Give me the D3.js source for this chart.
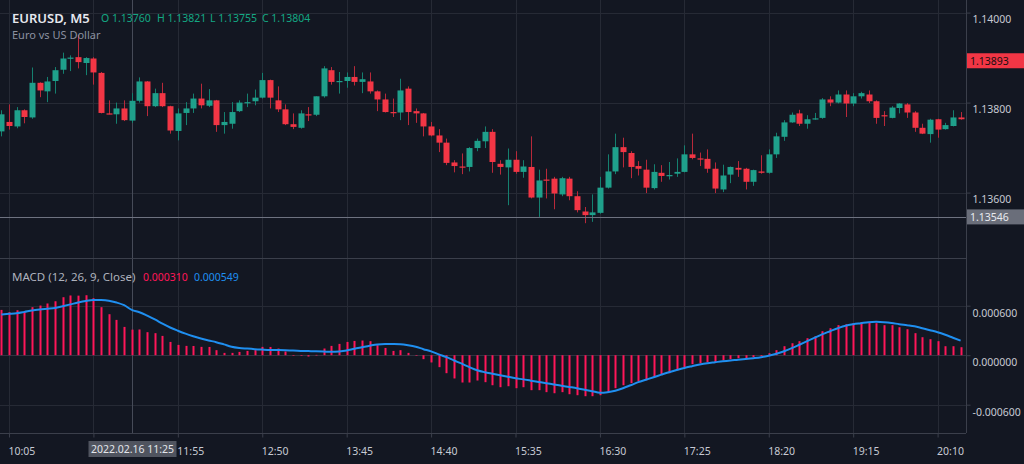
<!DOCTYPE html>
<html><head><meta charset="utf-8">
<script src="https://cdn.jsdelivr.net/npm/d3@7/dist/d3.min.js"></script>
<style>
html,body{margin:0;padding:0;background:#131722;overflow:hidden;}
svg{display:block;}
text{font-family:"Noto Sans","Open Sans",sans-serif;}
</style></head><body>
<svg id="c" width="1024" height="464"></svg>
<script>
// ---- DATA (EURUSD M5, 2022.02.16, bars from 10:00 to 20:25) ----
const symbol = "EURUSD, M5";
const description = "Euro vs US Dollar";
const firstBar = "2022-02-16 10:00";
const barMinutes = 5;
const open = [
1.13736,1.13757,1.13747,1.13783,1.13767,1.13844,1.13825,1.13848,1.13873,1.13899,
1.13901,1.13888,1.13898,1.13866,1.13776,1.13774,1.13787,1.13760,1.13804,1.13847,
1.13792,1.13821,1.13792,1.13737,1.13777,1.13787,1.13809,1.13793,1.13805,1.13750,
1.13753,1.13781,1.13800,1.13803,1.13811,1.13850,1.13805,1.13785,1.13752,1.13744,
1.13774,1.13773,1.13814,1.13872,1.13847,1.13848,1.13857,1.13846,1.13847,1.13825,
1.13807,1.13779,1.13778,1.13831,1.13781,1.13776,1.13747,1.13727,1.13711,1.13667,
1.13658,1.13657,1.13699,1.13714,1.13735,1.13664,1.13656,1.13673,1.13646,1.13657,
1.13589,1.13629,1.13631,1.13596,1.13631,1.13592,1.13558,1.13550,1.13555,1.13611,
1.13647,1.13701,1.13688,1.13659,1.13651,1.13610,1.13644,1.13638,1.13642,1.13646,
1.13685,1.13676,1.13675,1.13653,1.13607,1.13640,1.13655,1.13653,1.13624,1.13647,
1.13644,1.13685,1.13724,1.13756,1.13776,1.13753,1.13764,1.13766,1.13807,1.13800,
1.13818,1.13798,1.13814,1.13818,1.13803,1.13772,1.13766,1.13788,1.13796,1.13778,
1.13744,1.13730,1.13763,1.13741,1.13748,1.13767];
const high = [
1.13783,1.13796,1.13790,1.13785,1.13878,1.13845,1.13857,1.13879,1.13911,1.13905,
1.13950,1.13901,1.13901,1.13868,1.13805,1.13800,1.13805,1.13821,1.13856,1.13848,
1.13831,1.13844,1.13793,1.13787,1.13801,1.13820,1.13842,1.13830,1.13806,1.13779,
1.13801,1.13805,1.13820,1.13829,1.13866,1.13851,1.13836,1.13796,1.13776,1.13783,
1.13790,1.13814,1.13881,1.13879,1.13868,1.13867,1.13881,1.13867,1.13867,1.13827,
1.13820,1.13809,1.13853,1.13836,1.13787,1.13777,1.13757,1.13741,1.13720,1.13672,
1.13687,1.13701,1.13720,1.13747,1.13741,1.13672,1.13698,1.13692,1.13672,1.13725,
1.13651,1.13653,1.13635,1.13635,1.13635,1.13603,1.13568,1.13596,1.13635,1.13685,
1.13731,1.13722,1.13692,1.13670,1.13673,1.13663,1.13661,1.13668,1.13676,1.13705,
1.13731,1.13689,1.13696,1.13667,1.13662,1.13658,1.13670,1.13655,1.13651,1.13683,
1.13696,1.13733,1.13761,1.13778,1.13784,1.13772,1.13777,1.13810,1.13814,1.13827,
1.13827,1.13821,1.13824,1.13827,1.13805,1.13781,1.13792,1.13799,1.13799,1.13781,
1.13753,1.13764,1.13764,1.13755,1.13783,1.13779];
const low = [
1.13725,1.13740,1.13743,1.13754,1.13764,1.13812,1.13801,1.13820,1.13864,1.13870,
1.13876,1.13861,1.13840,1.13776,1.13774,1.13753,1.13759,1.13755,1.13800,1.13770,
1.13790,1.13790,1.13731,1.13716,1.13750,1.13777,1.13787,1.13790,1.13735,1.13731,
1.13742,1.13779,1.13790,1.13794,1.13809,1.13787,1.13779,1.13750,1.13741,1.13742,
1.13759,1.13770,1.13811,1.13840,1.13820,1.13833,1.13838,1.13821,1.13820,1.13781,
1.13778,1.13768,1.13761,1.13750,1.13755,1.13725,1.13725,1.13690,1.13661,1.13645,
1.13641,1.13647,1.13692,1.13699,1.13644,1.13640,1.13572,1.13642,1.13633,1.13587,
1.13546,1.13587,1.13563,1.13592,1.13583,1.13556,1.13532,1.13535,1.13553,1.13609,
1.13641,1.13656,1.13632,1.13638,1.13599,1.13607,1.13624,1.13629,1.13635,1.13645,
1.13674,1.13659,1.13644,1.13599,1.13601,1.13621,1.13635,1.13607,1.13615,1.13642,
1.13642,1.13677,1.13715,1.13755,1.13748,1.13742,1.13762,1.13764,1.13792,1.13798,
1.13768,1.13792,1.13809,1.13799,1.13753,1.13748,1.13765,1.13776,1.13766,1.13735,
1.13730,1.13711,1.13722,1.13740,1.13747,1.13762];
const close = [
1.13774,1.13748,1.13783,1.13768,1.13844,1.13827,1.13847,1.13872,1.13898,1.13900,
1.13890,1.13899,1.13867,1.13777,1.13775,1.13787,1.13761,1.13804,1.13847,1.13792,
1.13821,1.13792,1.13738,1.13776,1.13787,1.13809,1.13794,1.13805,1.13750,1.13757,
1.13779,1.13800,1.13801,1.13811,1.13850,1.13811,1.13785,1.13752,1.13746,1.13776,
1.13772,1.13814,1.13876,1.13846,1.13848,1.13857,1.13846,1.13852,1.13825,1.13807,
1.13779,1.13778,1.13827,1.13779,1.13776,1.13747,1.13727,1.13711,1.13666,1.13659,
1.13657,1.13699,1.13715,1.13735,1.13668,1.13657,1.13673,1.13646,1.13658,1.13589,
1.13627,1.13627,1.13598,1.13632,1.13592,1.13561,1.13550,1.13556,1.13611,1.13647,
1.13701,1.13690,1.13657,1.13653,1.13611,1.13646,1.13637,1.13639,1.13646,1.13685,
1.13677,1.13675,1.13653,1.13609,1.13638,1.13657,1.13651,1.13624,1.13650,1.13644,
1.13685,1.13725,1.13756,1.13773,1.13753,1.13763,1.13765,1.13807,1.13800,1.13818,
1.13798,1.13814,1.13821,1.13803,1.13766,1.13771,1.13789,1.13798,1.13778,1.13744,
1.13731,1.13762,1.13740,1.13750,1.13767,1.13763];
// MACD main (drawn as histogram) and signal line
const macdMain = [
0.000549,0.000521,0.000545,0.000530,0.000582,0.000602,0.000627,0.000654,0.000703,0.000724,
0.000722,0.000727,0.000691,0.000582,0.000497,0.000428,0.000343,0.000310,0.000312,0.000279,
0.000267,0.000234,0.000161,0.000125,0.000113,0.000112,0.000101,0.000100,0.000061,0.000028,
0.000028,0.000040,0.000052,0.000061,0.000101,0.000100,0.000081,0.000045,-0.000004,-0.000004,
-0.000016,0.000004,0.000081,0.000113,0.000137,0.000161,0.000173,0.000178,0.000170,0.000121,
0.000088,0.000052,0.000061,0.000028,0.000002,-0.000048,-0.000088,-0.000145,-0.000218,-0.000282,
-0.000331,-0.000331,-0.000307,-0.000327,-0.000364,-0.000388,-0.000376,-0.000400,-0.000388,-0.000424,
-0.000424,-0.000448,-0.000461,-0.000448,-0.000473,-0.000485,-0.000497,-0.000497,-0.000485,-0.000448,
-0.000400,-0.000364,-0.000339,-0.000315,-0.000303,-0.000267,-0.000242,-0.000218,-0.000182,-0.000145,
-0.000109,-0.000097,-0.000085,-0.000085,-0.000061,-0.000048,-0.000036,-0.000036,-0.000024,-0.000012,
0.000024,0.000061,0.000109,0.000145,0.000170,0.000206,0.000230,0.000291,0.000327,0.000364,
0.000376,0.000388,0.000400,0.000400,0.000388,0.000364,0.000364,0.000339,0.000315,0.000267,
0.000218,0.000194,0.000170,0.000109,0.000109,0.000097];
const macdSignal = [
0.000494,0.000501,0.000509,0.000525,0.000543,0.000555,0.000564,0.000573,0.000594,0.000616,
0.000639,0.000658,0.000669,0.000668,0.000661,0.000639,0.000606,0.000549,0.000521,0.000479,
0.000433,0.000382,0.000336,0.000297,0.000261,0.000230,0.000202,0.000179,0.000158,0.000131,
0.000103,0.000088,0.000080,0.000073,0.000068,0.000064,0.000063,0.000061,0.000056,0.000052,
0.000050,0.000048,0.000045,0.000041,0.000046,0.000058,0.000079,0.000097,0.000115,0.000131,
0.000137,0.000136,0.000133,0.000121,0.000103,0.000073,0.000046,0.000010,-0.000024,-0.000064,
-0.000103,-0.000145,-0.000182,-0.000206,-0.000224,-0.000242,-0.000261,-0.000279,-0.000293,-0.000309,
-0.000324,-0.000339,-0.000355,-0.000370,-0.000385,-0.000400,-0.000418,-0.000436,-0.000455,-0.000448,
-0.000430,-0.000400,-0.000364,-0.000327,-0.000297,-0.000267,-0.000236,-0.000206,-0.000179,-0.000154,
-0.000133,-0.000113,-0.000097,-0.000085,-0.000073,-0.000063,-0.000055,-0.000046,-0.000036,-0.000024,
-0.000006,0.000018,0.000048,0.000085,0.000127,0.000170,0.000212,0.000255,0.000291,0.000327,
0.000358,0.000376,0.000388,0.000400,0.000404,0.000400,0.000391,0.000376,0.000364,0.000351,
0.000327,0.000303,0.000279,0.000248,0.000212,0.000176];
const timeTickLabels = ["10:05","11:00","11:55","12:50","13:45","14:40","15:35","16:30","17:25","18:20","19:15","20:10"];
const priceTicks = [1.136, 1.138, 1.140];
const macdTicks = [-0.0006, 0, 0.0006];
const macdTitle = "MACD (12, 26, 9, Close)";
const crossTime = "2022-02-16 11:25";
const crossPrice = 1.13546;
const markerPrice = 1.13893;

// ---- LAYOUT ----
const W = 1024, H = 464;
const axisX = 966, priceBottom = 258.5, macdTop = 259, macdBottom = 433;
const C = {
  bg:"#131722", grid:"#262a35", sep:"#3b3f4b", axisText:"#c7cad3",
  up:"#1fa08b", down:"#f23645", upWick:"#15806f", downWick:"#b8293a",
  hist:"#ff1659", signal:"#1f8ff0", legendGreen:"#14a884", sub:"#8b91a0"
};
const parse = d3.timeParse("%Y-%m-%d %H:%M");
const t0 = parse(firstBar);
const bars = open.map((o,i)=>({
  t: d3.timeMinute.offset(t0, i*barMinutes), o, h:high[i], l:low[i], c:close[i],
  m: macdMain[i], s: macdSignal[i]
}));
const tickDates = timeTickLabels.map(s=>parse("2022-02-16 "+s));

const x = d3.scaleTime().domain([tickDates[0], tickDates[tickDates.length-1]]).range([9, 937.6]);
const y = d3.scaleLinear().domain([1.136, 1.140]).range([192.6, 12.6]);
const ym = d3.scaleLinear().domain([-0.0006, 0.0006]).range([404.7, 305.7]);

const svg = d3.select("#c");
svg.append("rect").attr("width",W).attr("height",H).attr("fill",C.bg);
const defs = svg.append("defs");
defs.append("clipPath").attr("id","cp").append("rect").attr("x",0).attr("y",0).attr("width",axisX).attr("height",priceBottom);
defs.append("clipPath").attr("id","cm").append("rect").attr("x",0).attr("y",macdTop).attr("width",axisX).attr("height",macdBottom-macdTop);

// grids
const g = svg.append("g");
g.selectAll(".vg").data(tickDates).join("line")
  .attr("x1",d=>Math.round(x(d))+0.5).attr("x2",d=>Math.round(x(d))+0.5)
  .attr("y1",0).attr("y2",macdBottom).attr("stroke",C.grid);
g.selectAll(".hg").data(priceTicks).join("line")
  .attr("x1",0).attr("x2",axisX).attr("y1",d=>Math.round(y(d))+0.5).attr("y2",d=>Math.round(y(d))+0.5)
  .attr("stroke",C.grid);
g.selectAll(".mg").data(macdTicks).join("line")
  .attr("x1",0).attr("x2",axisX).attr("y1",d=>Math.round(ym(d))+0.5).attr("y2",d=>Math.round(ym(d))+0.5)
  .attr("stroke",d=>d===0?"#2f3440":C.grid);

// crosshair vertical
const crossDate = parse(crossTime);
const cx = Math.round(x(crossDate))+0.5;
svg.append("line").attr("x1",cx).attr("x2",cx).attr("y1",0).attr("y2",macdBottom).attr("stroke","#464b58");

// candles
const cg = svg.append("g").attr("clip-path","url(#cp)");
const bw = 6;
cg.selectAll(".wick").data(bars).join("line")
  .attr("x1",d=>Math.round(x(d.t))+0.5).attr("x2",d=>Math.round(x(d.t))+0.5)
  .attr("y1",d=>y(d.h)).attr("y2",d=>y(d.l))
  .attr("stroke",d=>d.c>=d.o?C.upWick:C.downWick).attr("stroke-width",1);
cg.selectAll(".body").data(bars).join("rect")
  .attr("x",d=>Math.round(x(d.t))-bw/2+0.5).attr("width",bw)
  .attr("y",d=>y(Math.max(d.o,d.c)))
  .attr("height",d=>Math.max(1.2, Math.abs(y(d.o)-y(d.c))))
  .attr("fill",d=>d.c>=d.o?C.up:C.down);

// horizontal crosshair line (price)
svg.append("line").attr("x1",0).attr("x2",axisX).attr("y1",Math.round(y(crossPrice))+0.5).attr("y2",Math.round(y(crossPrice))+0.5)
  .attr("stroke","#6e7280");

// MACD pane
const mg = svg.append("g").attr("clip-path","url(#cm)");
mg.selectAll(".hb").data(bars).join("rect")
  .attr("x",d=>Math.round(x(d.t))-0.5).attr("width",2)
  .attr("y",d=>Math.min(ym(d.m), ym(0)))
  .attr("height",d=>Math.max(0.6, Math.abs(ym(d.m)-ym(0))))
  .attr("fill",C.hist);
mg.append("path").datum(bars)
  .attr("d", d3.line().x(d=>x(d.t)).y(d=>ym(d.s)).curve(d3.curveMonotoneX))
  .attr("fill","none").attr("stroke",C.signal).attr("stroke-width",2);

// separators / axis lines
svg.append("line").attr("x1",0).attr("x2",axisX).attr("y1",priceBottom).attr("y2",priceBottom).attr("stroke",C.sep);
svg.append("line").attr("x1",0).attr("x2",axisX).attr("y1",macdBottom+0.5).attr("y2",macdBottom+0.5).attr("stroke",C.sep);
svg.append("line").attr("x1",axisX+0.5).attr("x2",axisX+0.5).attr("y1",0).attr("y2",macdBottom).attr("stroke",C.sep);

// price axis
const pa = svg.append("g").attr("transform",`translate(${axisX+0.5},0)`)
  .call(d3.axisRight(y).tickValues(priceTicks).tickFormat(d3.format(".5f")).tickSize(4).tickPadding(2));
const ma = svg.append("g").attr("transform",`translate(${axisX+0.5},0)`)
  .call(d3.axisRight(ym).tickValues(macdTicks).tickFormat(d=>d3.format(".6f")(d).replace("−","-")).tickSize(4).tickPadding(2));
[pa,ma].forEach(a=>{
  a.select(".domain").remove();
  a.selectAll("line").attr("stroke",C.sep);
  a.selectAll("text").attr("fill",C.axisText).attr("font-size",10.5).attr("y",7);
});
// time axis (the label under the crosshair time box is hidden, as in the platform)
const cxBox = [cx-44, cx+44];
const ta = svg.append("g").attr("transform",`translate(0,${macdBottom+0.5})`)
  .call(d3.axisBottom(x).tickValues(tickDates).tickFormat(d3.timeFormat("%H:%M")).tickSize(4).tickPadding(10));
ta.select(".domain").remove();
ta.selectAll("line").attr("stroke",C.sep);
ta.selectAll("text").attr("fill",C.axisText).attr("font-size",10.5).attr("text-anchor","start").attr("dx",-1);
ta.selectAll(".tick").filter(d=>{const px=x(d); return px>cxBox[0]-2 && px<cxBox[1]-20;}).select("text").remove();

// price markers
function priceBox(p, fill, txtColor){
  const yy = y(p);
  svg.append("rect").attr("x",axisX+1).attr("y",yy-7.5).attr("width",W-axisX-1).attr("height",15).attr("fill",fill);
  svg.append("text").attr("x",axisX+4).attr("y",yy+4).attr("fill",txtColor).attr("font-size",10.5).text(d3.format(".5f")(p));
}
priceBox(markerPrice, "#f23645", "#1a0e12");
priceBox(crossPrice, "#6a6e7a", "#e8eaef");

// time crosshair label
const tl = svg.append("g");
tl.append("rect").attr("x",cxBox[0]).attr("y",441).attr("width",88).attr("height",16).attr("fill","#50545f");
tl.append("text").attr("x",cx).attr("y",452.5).attr("text-anchor","middle").attr("fill","#e3e5ea").attr("font-size",10.5)
  .text(d3.timeFormat("%Y.%m.%d %H:%M")(crossDate));

// header legend
const hb = bars.find(b=>+b.t===+crossDate);
svg.append("text").attr("x",12).attr("y",23).attr("fill","#e6e8ee").attr("font-size",13).attr("font-weight",600).text(symbol);
const f5 = d3.format(".5f");
[["O",hb.o,101],["H",hb.h,157],["L",hb.l,210],["C",hb.c,262]].forEach(([k,v,xx])=>{
  svg.append("text").attr("x",xx).attr("y",21.5).attr("fill",C.legendGreen).attr("font-size",10.5).text(k+" "+f5(v));
});
svg.append("text").attr("x",12).attr("y",38.5).attr("fill",C.sub).attr("font-size",11).text(description);
svg.append("text").attr("x",12).attr("y",281).attr("fill","#aeb2bd").attr("font-size",11.5).text(macdTitle);
svg.append("text").attr("x",143).attr("y",281).attr("fill",C.hist).attr("font-size",10.5).text(d3.format(".6f")(hb.m));
svg.append("text").attr("x",194).attr("y",281).attr("fill",C.signal).attr("font-size",10.5).text(d3.format(".6f")(hb.s));
</script>
</body></html>
